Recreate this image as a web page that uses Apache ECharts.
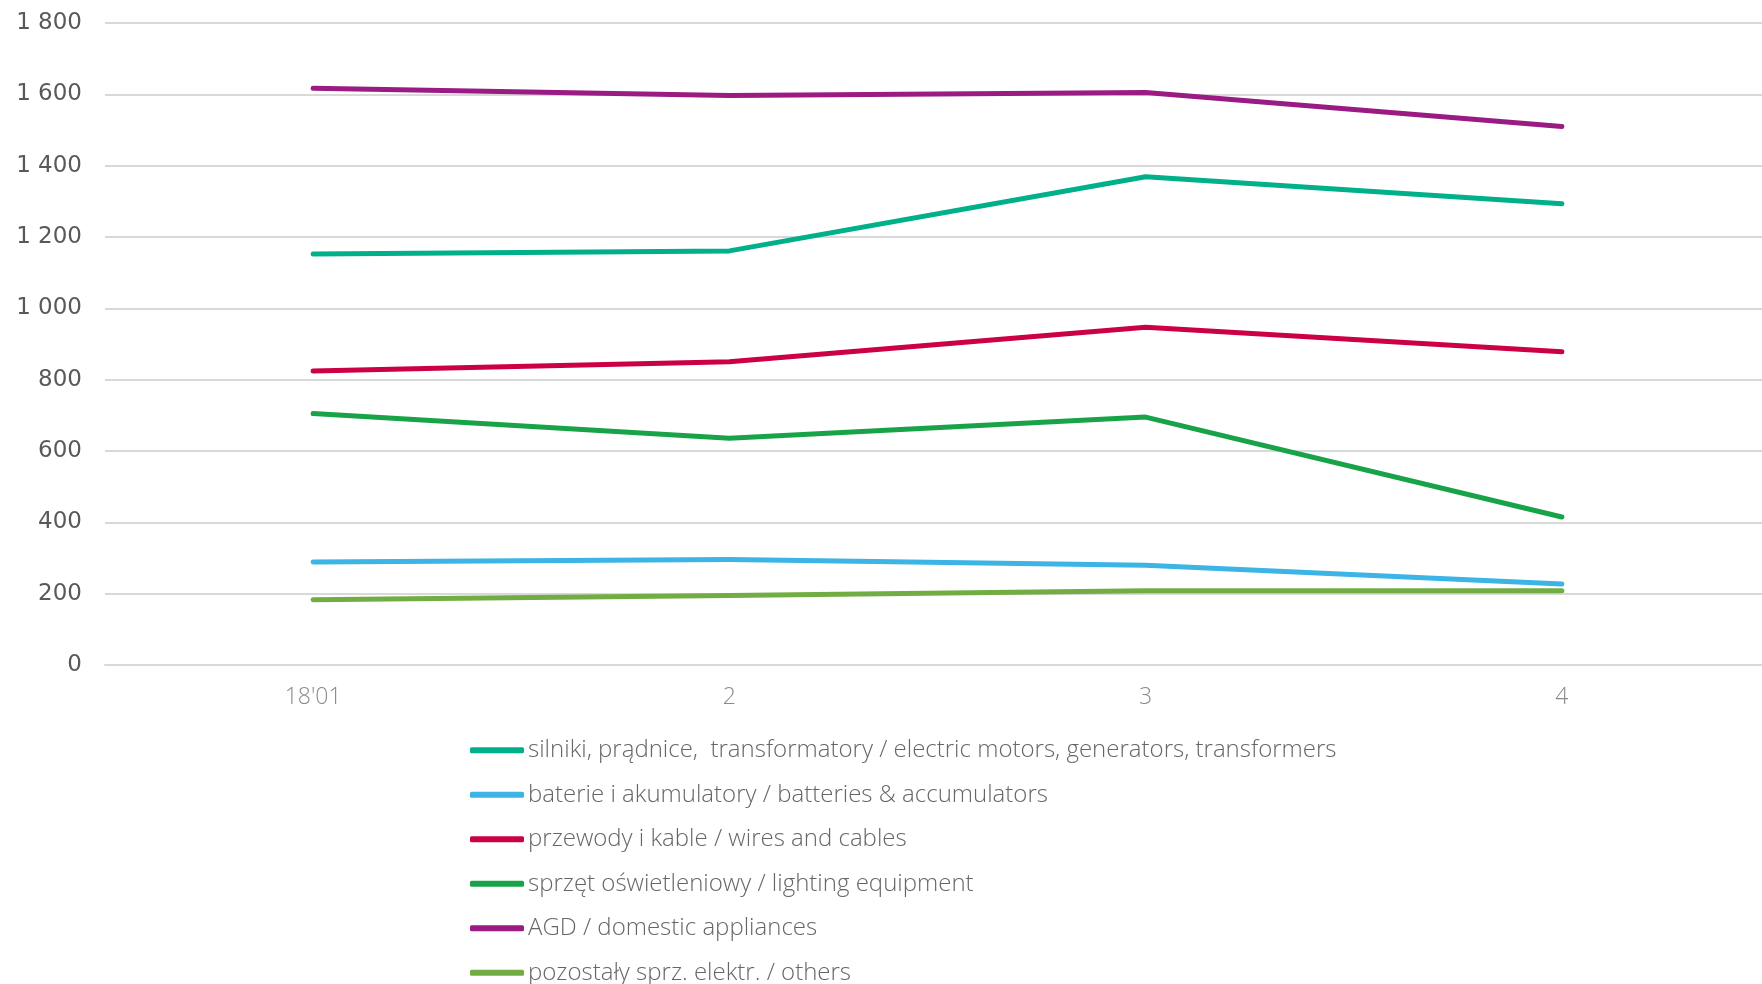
<!DOCTYPE html>
<html>
<head>
<meta charset="utf-8">
<script src="https://cdn.jsdelivr.net/npm/echarts@6/dist/echarts.min.js"></script>
<style>
html,body{margin:0;padding:0;background:#fff;overflow:hidden;}
#chart{width:1762px;height:984px;}
</style>
</head>
<body>
<div id="chart"></div>
<script>
const categories = ["18'01", "2", "3", "4"];
const seriesNames = [
  "silniki, prądnice,  transformatory / electric motors, generators, transformers",
  "baterie i akumulatory / batteries & accumulators",
  "przewody i kable / wires and cables",
  "sprzęt oświetleniowy / lighting equipment",
  "AGD / domestic appliances",
  "pozostały sprz. elektr. / others"
];
const motors = [1152, 1161, 1369, 1293];
const batteries = [289, 296, 280, 227];
const wires = [824, 850, 947, 878];
const lighting = [705, 636, 695, 415];
const appliances = [1617, 1597, 1605, 1510];
const others = [183, 195, 208, 208];
const colors = ["#00b08a", "#3cb4e5", "#cc0044", "#18a348", "#9b1b84", "#72ad44"];

const dataSets = [motors, batteries, wires, lighting, appliances, others];

const chart = echarts.init(document.getElementById('chart'));
chart.setOption({
  animation: false,
  backgroundColor: '#ffffff',
  color: colors,
  grid: { left: 105, width: 1665, top: 23, bottom: 319, containLabel: false, outerBoundsMode: 'none' },
  legend: {
    orient: 'vertical',
    left: 465,
    top: 733,
    height: 251,
    itemWidth: 54,
    itemHeight: 6,
    itemGap: 20,
    icon: 'roundRect',
    textStyle: { fontFamily: 'Open Sans', fontWeight: 300, fontSize: 24, color: '#666666', lineHeight: 24.5, padding: [0,0,0,-1] },
    data: seriesNames
  },
  xAxis: {
    type: 'category',
    data: categories,
    boundaryGap: true,
    axisLine: { lineStyle: { color: '#d9d9d9', width: 2 } },
    axisTick: { show: false },
    axisLabel: { margin: 21, fontFamily: 'Open Sans', fontWeight: 300, fontSize: 23, color: '#8a8a8a' }
  },
  yAxis: {
    type: 'value',
    min: 0, max: 1800, interval: 200,
    axisLine: { show: false },
    axisTick: { show: false },
    splitLine: { lineStyle: { color: '#d9d9d9', width: 2 } },
    axisLabel: {
      margin: 23,
      fontFamily: 'DejaVu Sans', fontSize: 23, color: '#595959',
      formatter: v => String(v).replace(/\B(?=(\d{3})+(?!\d))/g, ' ')
    }
  },
  series: seriesNames.map((n, i) => ({
    name: n,
    type: 'line',
    data: dataSets[i],
    symbol: 'none',
    lineStyle: { width: 5, color: colors[i], cap: 'round', join: 'round' },
    itemStyle: { color: colors[i] }
  }))
});
</script>
</body>
</html>
